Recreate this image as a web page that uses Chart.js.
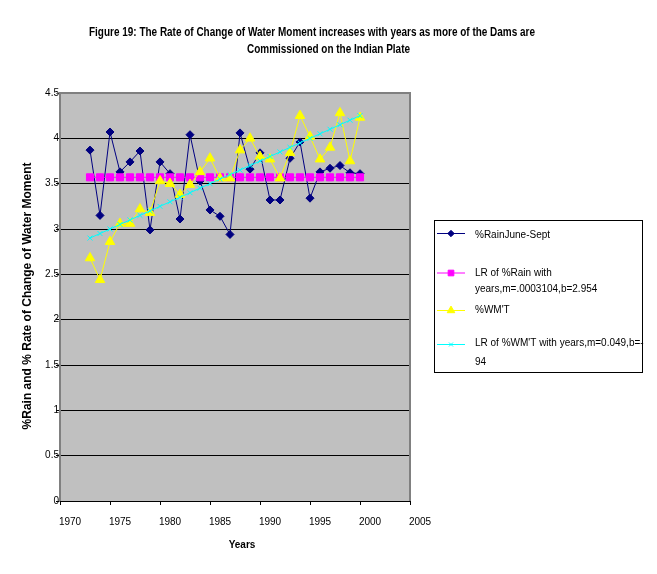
<!DOCTYPE html>
<html><head><meta charset="utf-8">
<script src="https://cdn.jsdelivr.net/npm/chart.js@4.4.0/dist/chart.umd.min.js"></script>
<style>html,body{margin:0;padding:0;background:#fff}#wrap{width:657px;height:574px;position:relative}</style>
</head><body><div id="wrap"><canvas id="c" width="657" height="574"></canvas></div>
<script>
const years = [1972,1973,1974,1975,1976,1977,1978,1979,1980,1981,1982,1983,1984,1985,1986,1987,1988,1989,1990,1991,1992,1993,1994,1995,1996,1997,1998,1999];
const rainJuneSept = [3.87,3.15,4.07,3.63,3.74,3.86,2.99,3.74,3.61,3.11,4.04,3.53,3.21,3.14,2.94,4.06,3.66,3.84,3.32,3.32,3.78,3.96,3.34,3.63,3.67,3.70,3.62,3.61];
const lrRain = [3.57,3.57,3.57,3.57,3.57,3.57,3.57,3.57,3.57,3.57,3.57,3.57,3.57,3.57,3.57,3.57,3.57,3.57,3.57,3.57,3.57,3.57,3.57,3.57,3.57,3.57,3.57,3.57];
const wmt = [2.68,2.44,2.86,3.06,3.06,3.22,3.18,3.53,3.50,3.38,3.49,3.63,3.78,3.56,3.56,3.87,4.00,3.80,3.77,3.56,3.84,4.25,4.02,3.77,3.90,4.28,3.75,4.23];
const lrWmt = [2.90,2.95,3.00,3.05,3.10,3.15,3.20,3.25,3.30,3.35,3.40,3.45,3.50,3.55,3.60,3.65,3.70,3.75,3.80,3.85,3.90,3.95,4.00,4.05,4.10,4.15,4.20,4.25];
const xTickLabels = [1970,1975,1980,1985,1990,1995,2000,2005];
const yTicks = [0,0.5,1,1.5,2,2.5,3,3.5,4,4.5];
const seriesLabels = [
  ["%RainJune-Sept"],
  ["LR of %Rain with", "years,m=.0003104,b=2.954"],
  ["%WM'T"],
  ["LR of %WM'T with years,m=0.049,b=-", "94"]
];
const titleLines = ["Figure 19: The Rate of Change of Water Moment increases with years as more of the Dams are", "Commissioned on the Indian Plate"];
const xTitle = "Years";
const yTitle = "%Rain and % Rate of Change of Water Moment";

const FONT = "'Liberation Sans', Arial, sans-serif";
const pts = arr => years.map((y, i) => ({x: y, y: arr[i]}));

const styles = [
  {color: '#000080', style: 'rectRot', r: 4},
  {color: '#FF00FF', style: 'rect', r: 5},
  {color: '#FFFF00', style: 'triangle', r: 5.5},
  {color: '#00FFFF', style: 'crossRot', r: 3.5}
];
const seriesData = [rainJuneSept, lrRain, wmt, lrWmt];

function marker(ctx, st, x, y) {
  const r = st.r;
  ctx.save();
  ctx.fillStyle = st.color; ctx.strokeStyle = st.color; ctx.lineWidth = 1;
  ctx.beginPath();
  if (st.style === 'rectRot') {
    ctx.moveTo(x, y - r); ctx.lineTo(x + r, y); ctx.lineTo(x, y + r); ctx.lineTo(x - r, y); ctx.closePath();
    ctx.fill(); ctx.stroke();
  } else if (st.style === 'rect') {
    const s = r * Math.SQRT1_2;
    ctx.rect(x - s, y - s, 2 * s, 2 * s); ctx.fill(); ctx.stroke();
  } else if (st.style === 'triangle') {
    for (let k = 0; k < 3; k++) {
      const a = k * 2 * Math.PI / 3;
      const px = x + Math.sin(a) * r, py = y - Math.cos(a) * r;
      k ? ctx.lineTo(px, py) : ctx.moveTo(px, py);
    }
    ctx.closePath(); ctx.fill(); ctx.stroke();
  } else {
    const s = r * Math.SQRT1_2;
    ctx.moveTo(x - s, y - s); ctx.lineTo(x + s, y + s);
    ctx.moveTo(x + s, y - s); ctx.lineTo(x - s, y + s); ctx.stroke();
  }
  ctx.restore();
}

const decor = {
  id: 'decor',
  beforeDraw(chart) {
    const {ctx, chartArea: a} = chart;
    ctx.save();
    ctx.fillStyle = '#C0C0C0';
    ctx.fillRect(a.left, a.top, a.right - a.left, a.bottom - a.top);
    ctx.restore();
  },
  beforeDatasetsDraw(chart) {
    const {ctx, chartArea: a} = chart;
    ctx.save();
    ctx.strokeStyle = '#808080'; ctx.lineWidth = 2;
    ctx.beginPath();
    ctx.moveTo(a.left, a.top); ctx.lineTo(a.right, a.top); ctx.lineTo(a.right, a.bottom);
    ctx.stroke();
    ctx.strokeStyle = '#000'; ctx.lineWidth = 1;
    ctx.beginPath(); ctx.moveTo(a.left, a.bottom + 0.5); ctx.lineTo(a.right, a.bottom + 0.5); ctx.stroke();
    ctx.restore();
  },
  afterDraw(chart) {
    const ctx = chart.ctx;
    ctx.save();
    ctx.fillStyle = '#000';
    // Title
    ctx.font = "bold 12px 'Liberation Sans Narrow','Arial Narrow'," + FONT;
    ctx.textBaseline = 'alphabetic'; ctx.textAlign = 'left';
    const tgt = [[89, 535, 36], [247, 410, 53]];
    titleLines.forEach((t, i) => {
      const w = ctx.measureText(t).width;
      const sx = (tgt[i][1] - tgt[i][0]) / w;
      ctx.save();
      ctx.translate(tgt[i][0], tgt[i][2]);
      ctx.scale(sx, 1);
      ctx.fillText(t, 0, 0);
      ctx.restore();
    });
    // Axis titles
    ctx.font = "bold 10px " + FONT;
    ctx.textAlign = 'center'; ctx.textBaseline = 'middle';
    ctx.fillText(xTitle, 242, 545);
    ctx.font = "bold 12px " + FONT;
    ctx.save();
    ctx.translate(28, 296);
    ctx.rotate(-Math.PI / 2);
    ctx.fillText(yTitle, 0, 0);
    ctx.restore();
    // Legend
    ctx.strokeStyle = '#000'; ctx.lineWidth = 1;
    ctx.strokeRect(434.5, 220.5, 208, 152);
    const rows = [[233, [235]], [272.5, [273, 289]], [310, [310]], [344, [343, 362]]];
    ctx.font = "10px " + FONT;
    ctx.textAlign = 'left'; ctx.textBaseline = 'middle';
    seriesLabels.forEach((lines, i) => {
      const st = styles[i];
      const ly = rows[i][0];
      ctx.strokeStyle = st.color; ctx.lineWidth = 1;
      ctx.beginPath(); ctx.moveTo(437, ly + 0.5); ctx.lineTo(465, ly + 0.5); ctx.stroke();
      marker(ctx, {color: st.color, style: st.style, r: st.r * 0.8}, 451, ly + 0.5);
      ctx.fillStyle = '#000';
      lines.forEach((t, j) => ctx.fillText(t, 475, rows[i][1][j]));
    });
    ctx.restore();
  }
};

const datasets = seriesLabels.map((lab, i) => ({
  label: lab.join(' '),
  data: pts(seriesData[i]),
  borderColor: styles[i].color,
  backgroundColor: styles[i].color,
  borderWidth: 1,
  pointStyle: styles[i].style,
  pointRadius: styles[i].r,
  pointHoverRadius: styles[i].r,
  pointBorderWidth: 1,
  pointBorderColor: styles[i].color,
  pointBackgroundColor: styles[i].color,
  tension: 0,
  fill: false,
  order: 4 - i
}));

new Chart(document.getElementById('c'), {
  type: 'line',
  data: {datasets},
  plugins: [decor],
  options: {
    responsive: false,
    animation: false,
    events: [],
    layout: {padding: {left: 0, top: 93, right: 247, bottom: 0}},
    plugins: {legend: {display: false}, title: {display: false}, tooltip: {enabled: false}},
    scales: {
      x: {
        type: 'linear', min: 1969, max: 2004,
        afterBuildTicks(axis) { axis.ticks = xTickLabels.map(v => ({value: v - 1})); },
        afterFit(s) { s.height = 73; },
        ticks: {
          callback: v => String(v + 1),
          font: {family: FONT, size: 10}, color: '#000',
          labelOffset: 10, padding: 11, maxRotation: 0, autoSkip: false
        },
        grid: {drawOnChartArea: false, drawTicks: true, tickLength: 4, color: '#000', lineWidth: 1},
        border: {display: true, color: '#000', width: 1}
      },
      y: {
        min: 0, max: 4.5,
        afterBuildTicks(axis) { axis.ticks = yTicks.map(v => ({value: v})); },
        afterFit(s) { s.width = 60; },
        ticks: {
          callback: v => String(v),
          font: {family: FONT, size: 10}, color: '#000',
          padding: -3, autoSkip: false
        },
        grid: {
          drawTicks: true, tickLength: 4,
          color: c => (c.tick && c.tick.value === 4.5) ? '#808080' : '#000',
          lineWidth: 1
        },
        border: {display: true, color: '#808080', width: 2}
      }
    }
  }
});
</script>
</body></html>
